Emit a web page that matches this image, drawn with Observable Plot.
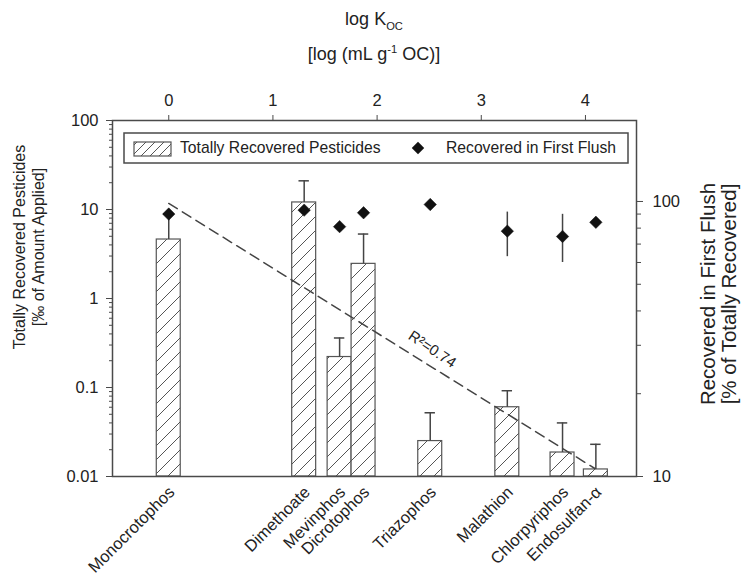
<!DOCTYPE html>
<html>
<head>
<meta charset="utf-8">
<script src="https://cdn.jsdelivr.net/npm/d3@7"></script>
<script src="https://cdn.jsdelivr.net/npm/@observablehq/plot@0.6"></script>
<style>
  html, body { margin: 0; padding: 0; background: #fff; }
  #chart { position: relative; width: 742px; height: 577px; font-family: "Liberation Sans", Arial, sans-serif; color: #222; overflow: hidden; }
  #chart > svg, #chart > .layer { position: absolute; left: 0; top: 0; }
  .ttl { position: absolute; white-space: nowrap; text-align: center; }
  sub, sup { font-size: 62%; line-height: 0; }
</style>
</head>
<body>
<div id="chart"></div>
<script>
// ---- data ----
const pesticides = ["Monocrotophos", "Dimethoate", "Mevinphos", "Dicrotophos", "Triazophos", "Malathion", "Chlorpyriphos", "Endosulfan-α"];
const logKoc = [0.00, 1.30, 1.64, 1.87, 2.51, 3.25, 3.78, 4.10];
const totalRecovered = [4.6, 12.0, 0.22, 2.45, 0.025, 0.060, 0.0186, 0.012];      // ‰ of amount applied
const totalRecoveredUpper = [8.9, 21, 0.36, 5.3, 0.052, 0.092, 0.040, 0.023];
const firstFlush = [90, 93, 81, 91, 97.5, 78, 74.6, 84];                          // % of totally recovered
const firstFlushLow = [null, null, null, null, null, 63, 60, null];
const firstFlushHigh = [null, null, null, null, null, 91.5, 89.8, null];
const fitLogKoc = [0.0, 4.09];
const fitRecovered = [11.7, 0.0123];
const fitLabel = "R²=0.74";
const topTicks = [0, 1, 2, 3, 4];
const leftTicks = [0.01, 0.1, 1, 10, 100];
const leftMinorTicks = [0.02,0.03,0.04,0.05,0.06,0.07,0.08,0.09, 0.2,0.3,0.4,0.5,0.6,0.7,0.8,0.9, 2,3,4,5,6,7,8,9, 20,30,40,50,60,70,80,90];
const rightTicks = [10, 100];
const rightMinorTicks = [20, 30, 40, 50, 60, 70, 80, 90];

// ---- tables built from the arrays ----
const rows = pesticides.map((name, i) => ({
  name, koc: logKoc[i], total: totalRecovered[i], upper: totalRecoveredUpper[i],
  flush: firstFlush[i], flushLow: firstFlushLow[i], flushHigh: firstFlushHigh[i]
}));
const fit = fitLogKoc.map((x, i) => ({x, y: fitRecovered[i]}));
const labelX = 2.53;
const t = (labelX - fitLogKoc[0]) / (fitLogKoc[1] - fitLogKoc[0]);
const labelY = Math.pow(10, Math.log10(fitRecovered[0]) + t * (Math.log10(fitRecovered[1]) - Math.log10(fitRecovered[0])));

const W = 742, H = 577;
const M = {left: 112, right: 106, top: 120, bottom: 101};
const xDomain = [-0.54, 4.49];
const barHalf = 0.115, capHalf = 0.05;
const font = "'Liberation Sans', Arial, sans-serif";
const ink = "#222", grey = "#4a4a4a";

const plotMain = Plot.plot({
  width: W, height: H,
  marginLeft: M.left, marginRight: M.right, marginTop: M.top, marginBottom: M.bottom,
  x: {type: "linear", domain: xDomain},
  y: {type: "log", domain: [0.01, 100]},
  style: {fontFamily: font, fontSize: "16px", background: "transparent", color: ink, overflow: "visible"},
  marks: [
    Plot.rect(rows, {x1: d => d.koc - barHalf, x2: d => d.koc + barHalf, y1: 0.01, y2: "total",
      fill: "url(#hatch)", stroke: "#555", strokeWidth: 1.2}),
    Plot.ruleX(rows, {x: "koc", y1: "total", y2: "upper", stroke: "#444", strokeWidth: 1.5}),
    Plot.ruleY(rows, {y: "upper", x1: d => d.koc - capHalf, x2: d => d.koc + capHalf, stroke: "#444", strokeWidth: 1.5}),
    Plot.line(fit, {x: "x", y: "y", stroke: "#444", strokeWidth: 1.5, strokeDasharray: "10,6"}),
    Plot.text([fitLabel], {x: () => labelX, y: () => labelY, text: d => d, rotate: 34, dy: -18, fontSize: 15, fill: ink}),
    Plot.text(rows, {x: "koc", y: () => 0.01, text: "name", rotate: -45, textAnchor: "end",
      lineAnchor: "middle", dx: 3, dy: 13, fontSize: 16.5, fill: ink}),
    Plot.frame({stroke: grey, strokeWidth: 1.5}),
    Plot.axisX(topTicks, {anchor: "top", tickSize: 6, tickPadding: 9, fontSize: 16.5, label: null, stroke: grey}),
    Plot.axisY(leftTicks, {anchor: "left", tickSize: 6, tickPadding: 8, fontSize: 16.5, label: null,
      tickFormat: d => String(d), stroke: grey}),
    Plot.axisY(leftMinorTicks, {anchor: "left", tickSize: 3, text: null, label: null, stroke: grey})
  ]
});

const plotRight = Plot.plot({
  width: W, height: H,
  marginLeft: M.left, marginRight: M.right, marginTop: M.top, marginBottom: M.bottom,
  x: {type: "linear", domain: xDomain, axis: null},
  y: {type: "log", domain: [10, 197]},
  style: {fontFamily: font, fontSize: "16px", background: "transparent", color: ink, overflow: "visible"},
  marks: [
    Plot.ruleX(rows.filter(d => d.flushLow != null), {x: "koc", y1: "flushLow", y2: "flushHigh", stroke: "#444", strokeWidth: 1.5}),
    Plot.dot(rows, {x: "koc", y: "flush", symbol: "diamond2", r: 5.6, fill: "#111", stroke: "#111", strokeWidth: 0.5}),
    Plot.axisY(rightTicks, {anchor: "right", tickSize: 6, tickPadding: 10, fontSize: 16.5, label: null,
      tickFormat: d => String(d), stroke: grey}),
    Plot.axisY(rightMinorTicks, {anchor: "right", tickSize: 4, text: null, label: null, stroke: grey})
  ]
});

// hatch pattern for the bars
const defs = d3.select(plotMain).insert("defs", ":first-child");
const pat = defs.append("pattern").attr("id", "hatch").attr("patternUnits", "userSpaceOnUse")
  .attr("width", 14).attr("height", 14);
pat.append("rect").attr("width", 14).attr("height", 14).attr("fill", "#fff");
pat.append("path").attr("d", "M0,14 L14,0 M-2,2 L2,-2 M12,16 L16,12")
  .attr("stroke", "#555").attr("stroke-width", 1).attr("fill", "none");

const chart = document.getElementById("chart");
chart.appendChild(plotMain);
plotRight.style.pointerEvents = "none";
chart.appendChild(plotRight);

// titles
function addDiv(html, css) {
  const d = document.createElement("div");
  d.className = "ttl";
  d.innerHTML = html;
  Object.assign(d.style, css);
  chart.appendChild(d);
  return d;
}
addDiv("log K<sub>OC</sub>", {left: M.left + "px", width: (W - M.left - M.right) + "px", top: "8px", fontSize: "18px", lineHeight: "22px"});
addDiv("[log (mL g<sup>-1</sup> OC)]", {left: M.left + "px", width: (W - M.left - M.right) + "px", top: "42px", fontSize: "18px", lineHeight: "24px"});
addDiv("Totally Recovered Pesticides<br>[‰ of Amount Applied]", {left: "29px", top: "247px", fontSize: "16px", lineHeight: "19px",
  transform: "translate(-50%,-50%) rotate(-90deg)"});
addDiv("Recovered in First Flush<br>[% of Totally Recovered]", {left: "718px", top: "294px", fontSize: "20.5px", lineHeight: "21px",
  transform: "translate(-50%,-50%) rotate(-90deg)"});

// legend (inside the plot area)
const lg = d3.select(chart).append("svg").attr("class", "layer").attr("width", W).attr("height", H)
  .style("pointer-events", "none").style("font-family", font);
const lgDefs = lg.append("defs");
const lp = lgDefs.append("pattern").attr("id", "hatchL").attr("patternUnits", "userSpaceOnUse").attr("width", 9).attr("height", 9);
lp.append("path").attr("d", "M0,9 L9,0 M-2,2 L2,-2 M7,11 L11,7").attr("stroke", "#555").attr("stroke-width", 1);
lg.append("rect").attr("x", 124).attr("y", 133).attr("width", 504).attr("height", 30)
  .attr("fill", "#fff").attr("stroke", grey).attr("stroke-width", 1.5);
lg.append("rect").attr("x", 134).attr("y", 142).attr("width", 37).attr("height", 14)
  .attr("fill", "url(#hatchL)").attr("stroke", "#555").attr("stroke-width", 1.2);
lg.append("text").attr("x", 180).attr("y", 148).attr("dy", "0.35em").attr("font-size", 15.7).attr("fill", ink)
  .text("Totally Recovered Pesticides");
lg.append("path").attr("d", d3.symbol(d3.symbolDiamond2, Math.PI * 5.6 * 5.6)()).attr("transform", "translate(418,148)").attr("fill", "#111");
lg.append("text").attr("x", 446).attr("y", 148).attr("dy", "0.35em").attr("font-size", 15.7).attr("fill", ink)
  .text("Recovered in First Flush");
</script>
</body>
</html>
